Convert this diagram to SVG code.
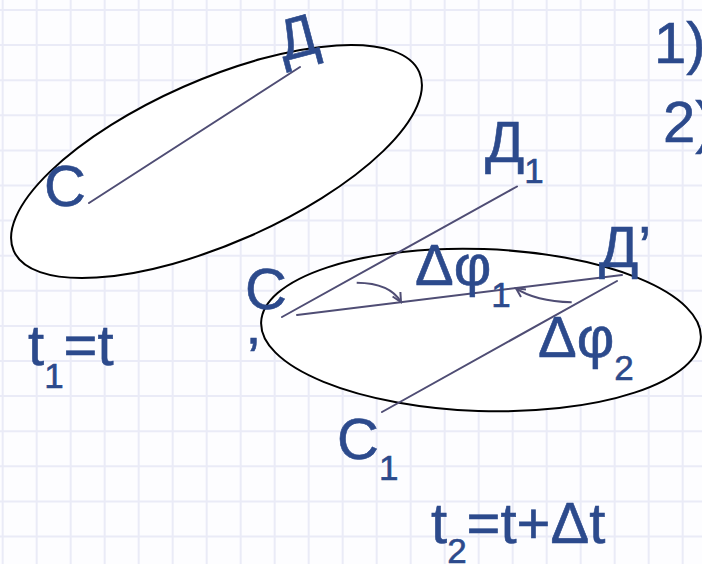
<svg xmlns="http://www.w3.org/2000/svg" width="702" height="564" viewBox="0 0 702 564">
<defs>
<style>
.grid{fill:none;stroke:#eaebf7;stroke-width:2}
.ell{fill:#ffffff;stroke:#000000;stroke-width:2}
.ln{fill:none;stroke:#4f4d74;stroke-width:2;stroke-linecap:round}
.arc{fill:none;stroke:#4f4d74;stroke-width:2}
.lbl{font-family:"Liberation Sans",Arial,sans-serif;font-size:58px;fill:#2c4a8c;stroke:#2c4a8c;stroke-width:0.6}
.sub{font-size:35px}
</style>
<marker id="arr" viewBox="-10 -6 12 12" refX="0" refY="0" markerWidth="12" markerHeight="12" markerUnits="userSpaceOnUse" orient="auto">
<path d="M-9,-4.5 L0,0 L-9,4.5" fill="none" stroke="#4f4d74" stroke-width="2"/>
</marker>
</defs>
<rect width="702" height="564" fill="#fdfdff"/>
<path class="grid" d="M2.7 0V564M36.7 0V564M70.7 0V564M104.7 0V564M138.7 0V564M172.7 0V564M206.7 0V564M240.7 0V564M274.7 0V564M308.7 0V564M342.7 0V564M376.7 0V564M410.7 0V564M444.7 0V564M478.7 0V564M512.7 0V564M546.7 0V564M580.7 0V564M614.7 0V564M648.7 0V564M682.7 0V564M0 10H702M0 45.1H702M0 80.2H702M0 115.3H702M0 150.4H702M0 185.5H702M0 220.6H702M0 255.7H702M0 290.8H702M0 325.9H702M0 361H702M0 396.1H702M0 431.2H702M0 466.3H702M0 501.4H702M0 536.5H702"/>
<g id="body1">
<ellipse class="ell" cx="216.5" cy="161.5" rx="221.6" ry="81.7" transform="rotate(-23.8 216.5 161.5)"/>
</g>
<g id="body2">
<ellipse class="ell" cx="481" cy="330" rx="220" ry="81" transform="rotate(2 481 330)"/>
</g>
<g id="connectors">
<line class="ln" x1="89" y1="203" x2="300" y2="67"/>
<line class="ln" x1="282" y1="317" x2="517" y2="186.5"/>
<line class="ln" x1="297" y1="315" x2="622" y2="275"/>
<line class="ln" x1="382" y1="412" x2="617" y2="281"/>
<path class="arc" d="M356.7,282.7 Q390,283 401,302" marker-end="url(#arr)"/>
<path class="arc" d="M571.7,302.3 Q535,301 516,288.3" marker-end="url(#arr)"/>
</g>
<g id="label-D">
<text class="lbl" text-anchor="middle" transform="translate(298,40) rotate(-15)" x="0" y="17">Д</text>
</g>
<g id="label-C">
<text class="lbl" x="44" y="206">C</text>
</g>
<g id="label-D1">
<text class="lbl" x="485" y="162">Д<tspan class="sub" dy="21">1</tspan></text>
</g>
<g id="label-Dp">
<text class="lbl" x="599" y="267">Д’</text>
</g>
<g id="label-Cp">
<text class="lbl" x="245" y="309">C</text>
<text class="lbl" x="247" y="378">’</text>
</g>
<g id="label-dphi1">
<text class="lbl" x="415" y="285">Δφ<tspan class="sub" dy="22">1</tspan></text>
</g>
<g id="label-dphi2">
<text class="lbl" x="538" y="357">Δφ<tspan class="sub" dy="23">2</tspan></text>
</g>
<g id="label-C1">
<text class="lbl" x="337" y="459">C<tspan class="sub" dy="21">1</tspan></text>
</g>
<g id="label-t1">
<text class="lbl" x="28" y="365">t<tspan class="sub" dy="23">1</tspan><tspan dy="-23">=t</tspan></text>
</g>
<g id="label-t2">
<text class="lbl" x="431" y="543">t<tspan class="sub" dy="20">2</tspan><tspan dy="-20">=t+Δt</tspan></text>
</g>
<g id="label-list">
<text class="lbl" x="654" y="63">1)</text>
<text class="lbl" x="663" y="142">2)</text>
</g>
</svg>
